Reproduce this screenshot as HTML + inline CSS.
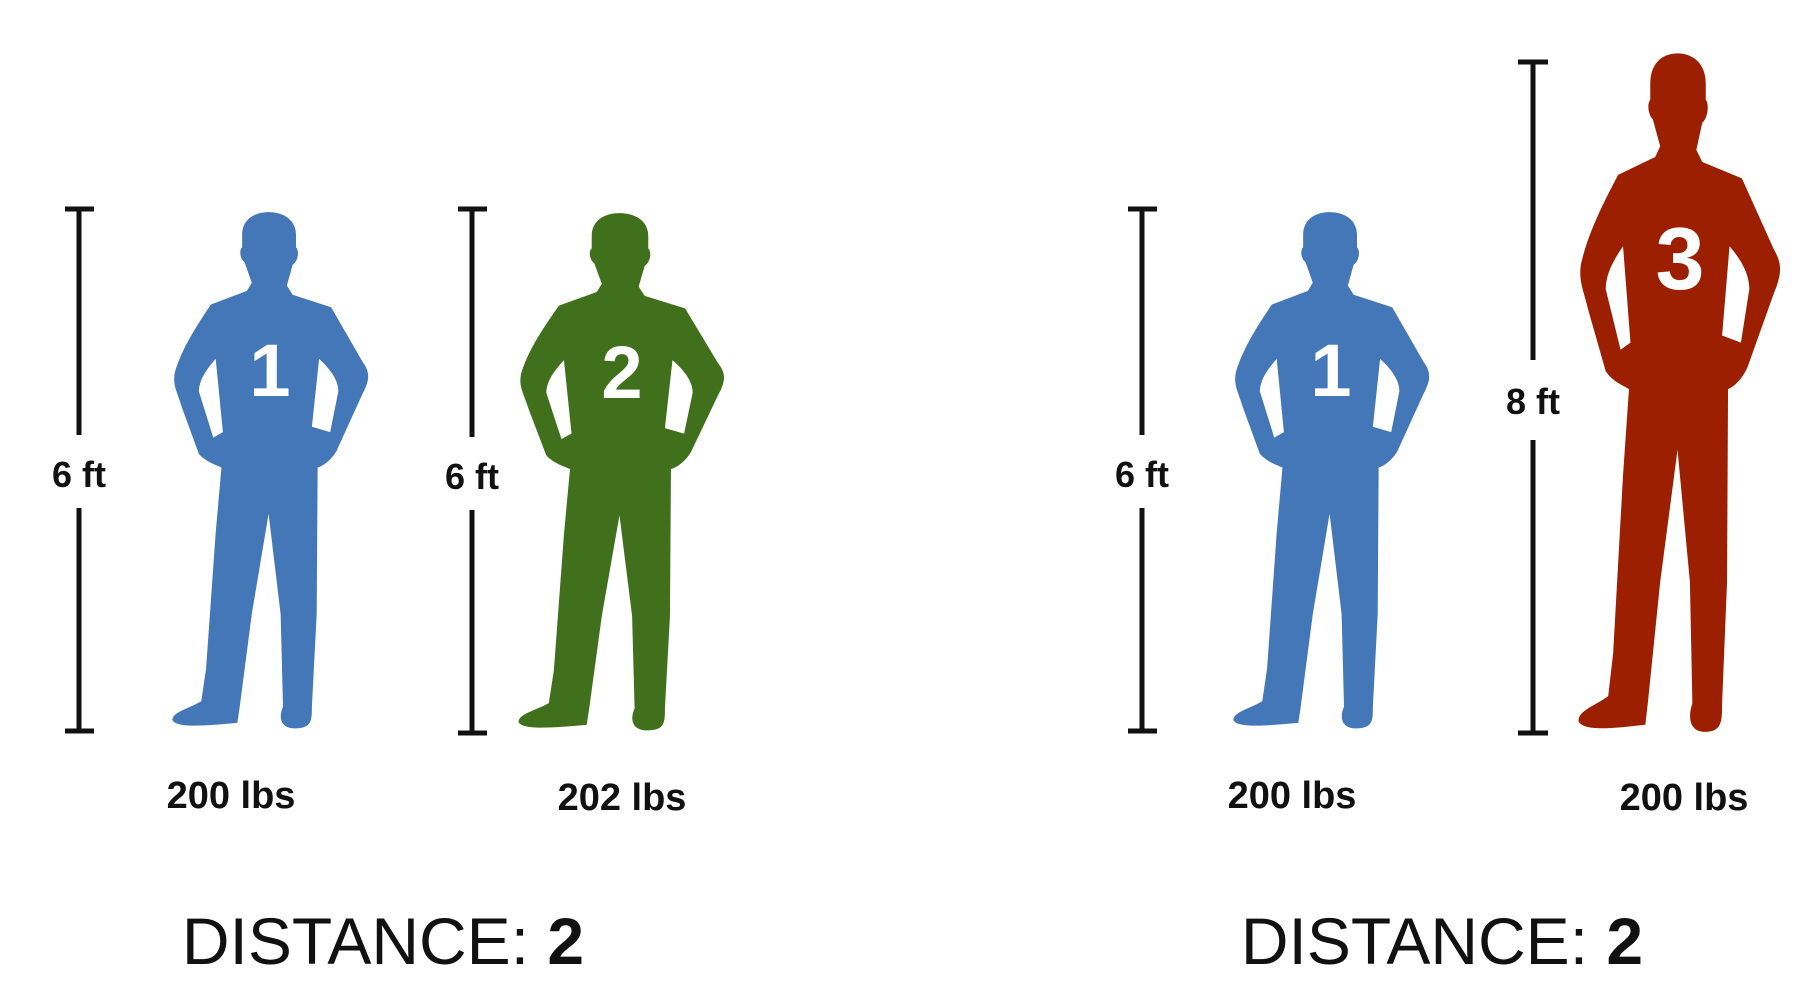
<!DOCTYPE html>
<html>
<head>
<meta charset="utf-8">
<style>
  html,body{margin:0;padding:0;background:#fff;}
  body{width:1804px;height:1000px;overflow:hidden;font-family:"Liberation Sans",Arial,sans-serif;}
  svg{position:absolute;left:0;top:0;}
  .lbl{font-family:"Liberation Sans",sans-serif;font-weight:bold;fill:#111;}
  .num{font-family:"Liberation Sans",sans-serif;font-weight:bold;fill:#fff;}
  .dist{font-family:"Liberation Sans",sans-serif;fill:#111;}
</style>
</head>
<body>
<svg width="1804" height="1000" viewBox="0 0 1804 1000">
  <defs>
    <symbol id="man" viewBox="345 108 420 955" preserveAspectRatio="none">
      <path fill-rule="evenodd" d="M550,110 C518,110 495,125 495,152 L495,175 C488,180 491,197 500,202 L515,240 L505,255 L430,280 C400,320 370,360 355,405 C350,430 360,440 370,470 L405,555 C420,570 440,575 452,580 L440,700 L420,950 L410,1010 C380,1025 350,1030 350,1045 C360,1060 420,1055 485,1050 L490,1020 L515,850 L550,665 L575,850 L580,1020 C570,1040 575,1060 605,1060 C640,1060 640,1045 640,1020 L650,850 L652,580 C670,575 685,560 692,548 L745,445 C760,420 762,405 745,385 L680,285 L600,262 L588,245 L600,207 C612,200 614,180 607,175 L607,152 C607,125 582,110 550,110 Z M440,380 L455,515 L435,525 L405,440 C405,420 420,400 440,380 Z M655,380 L640,505 L678,515 L695,440 C695,420 680,400 655,380 Z"/>
    </symbol>
  </defs>

  <g stroke="#111" stroke-width="5">
    <line x1="79" y1="209" x2="79" y2="435"/>
    <line x1="79" y1="508" x2="79" y2="731"/>
    <line x1="65" y1="209" x2="94" y2="209"/>
    <line x1="65" y1="731" x2="94" y2="731"/>
  </g>
  <text class="lbl" x="79" y="487" font-size="36" text-anchor="middle">6 ft</text>

  <g>
    <use href="#man" x="170" y="211" width="202" height="519" fill="#4477b8"/>
    <text class="num" x="270" y="396" font-size="74" text-anchor="middle">1</text>
  </g>

  <g stroke="#111" stroke-width="5">
    <line x1="472" y1="209" x2="472" y2="437"/>
    <line x1="472" y1="510" x2="472" y2="733"/>
    <line x1="458" y1="209" x2="487" y2="209"/>
    <line x1="458" y1="733" x2="487" y2="733"/>
  </g>
  <text class="lbl" x="472" y="489" font-size="36" text-anchor="middle">6 ft</text>

  <g>
    <use href="#man" x="516" y="212" width="212" height="520" fill="#41701c"/>
    <text class="num" x="622" y="398" font-size="74" text-anchor="middle">2</text>
  </g>

  <text class="lbl" x="231" y="808" font-size="38" text-anchor="middle">200 lbs</text>
  <text class="lbl" x="622" y="810" font-size="38" text-anchor="middle">202 lbs</text>

  <text class="dist" x="383" y="964" font-size="66" text-anchor="middle">DISTANCE: <tspan font-weight="bold">2</tspan></text>

  <g stroke="#111" stroke-width="5">
    <line x1="1142" y1="209" x2="1142" y2="435"/>
    <line x1="1142" y1="508" x2="1142" y2="731"/>
    <line x1="1128" y1="209" x2="1157" y2="209"/>
    <line x1="1128" y1="731" x2="1157" y2="731"/>
  </g>
  <text class="lbl" x="1142" y="487" font-size="36" text-anchor="middle">6 ft</text>

  <g>
    <use href="#man" x="1231" y="211" width="202" height="519" fill="#4477b8"/>
    <text class="num" x="1331" y="396" font-size="74" text-anchor="middle">1</text>
  </g>

  <g stroke="#111" stroke-width="5">
    <line x1="1533" y1="62" x2="1533" y2="360"/>
    <line x1="1533" y1="440" x2="1533" y2="733"/>
    <line x1="1518" y1="62" x2="1548" y2="62"/>
    <line x1="1518" y1="733" x2="1548" y2="733"/>
  </g>
  <text class="lbl" x="1533" y="414" font-size="36" text-anchor="middle">8 ft</text>

  <g>
    <use href="#man" x="1576" y="52" width="208" height="682" fill="#9b1f00"/>
    <text class="num" x="1680" y="289" font-size="88" text-anchor="middle">3</text>
  </g>

  <text class="lbl" x="1292" y="808" font-size="38" text-anchor="middle">200 lbs</text>
  <text class="lbl" x="1684" y="810" font-size="38" text-anchor="middle">200 lbs</text>

  <text class="dist" x="1442" y="964" font-size="66" text-anchor="middle">DISTANCE: <tspan font-weight="bold">2</tspan></text>
</svg>
</body>
</html>
